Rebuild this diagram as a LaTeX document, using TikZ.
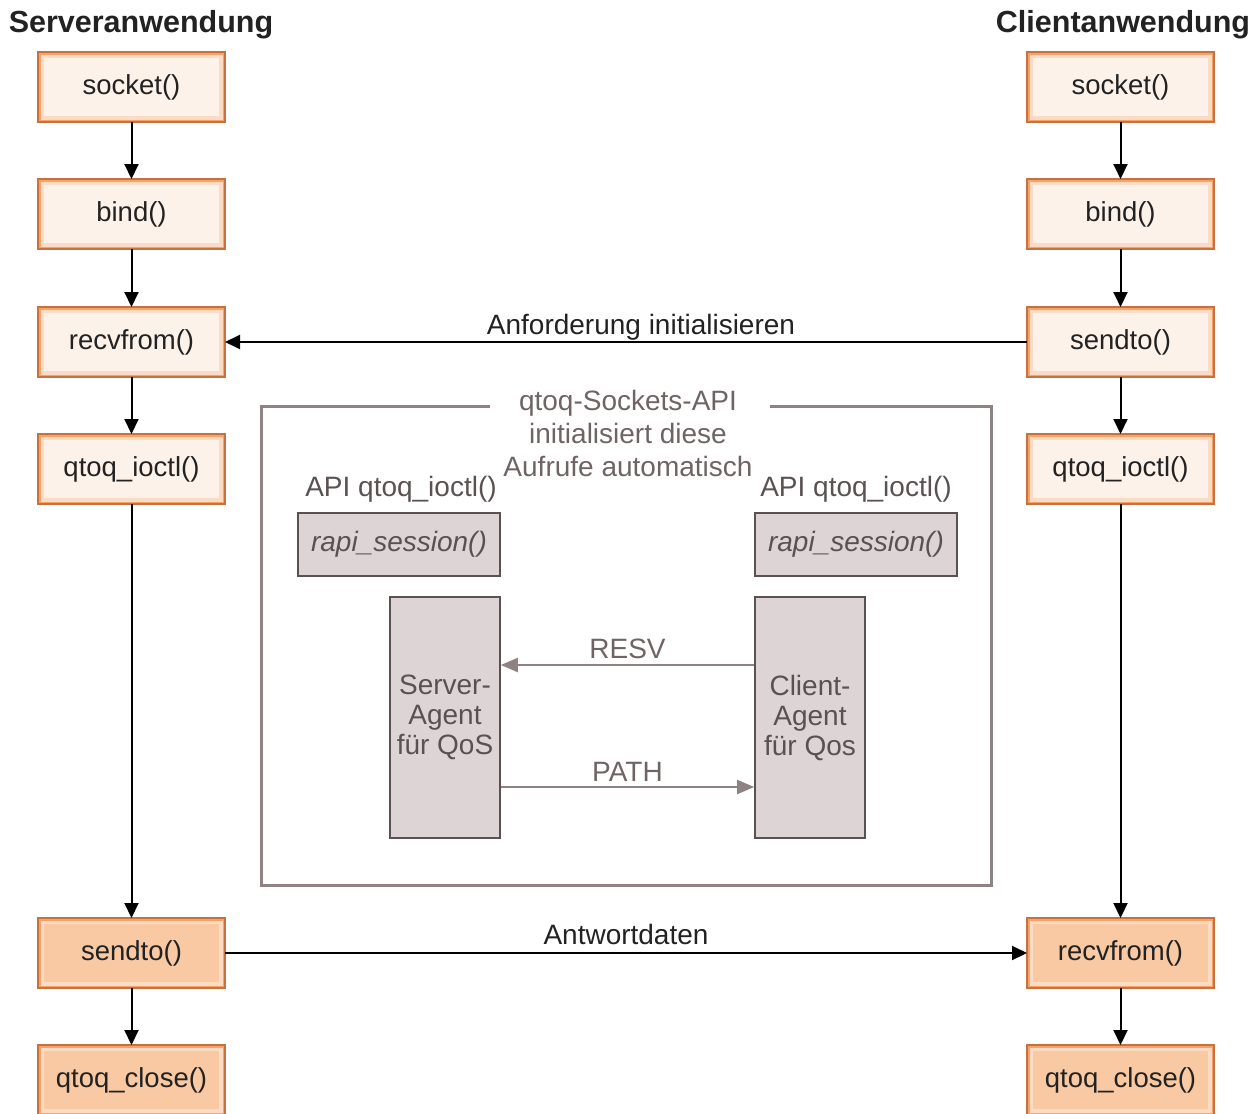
\documentclass[tikz,border=0pt]{standalone}
\usepackage{fontspec}
\setmainfont{Liberation Sans}
\usetikzlibrary{arrows.meta}
\definecolor{boxlight}{HTML}{FCF2EA}
\definecolor{boxdeep}{HTML}{F8C9A2}
\definecolor{boxglow}{HTML}{F4A468}
\definecolor{boxedge}{HTML}{C8713F}
\definecolor{framegray}{HTML}{8E8282}
\definecolor{innerfill}{HTML}{DDD5D5}
\definecolor{innerline}{HTML}{5A5252}
\definecolor{graytext}{HTML}{6E6464}
\definecolor{darktext}{HTML}{222222}
\tikzset{
  fbox/.style={minimum width=187pt, minimum height=70pt, inner sep=0pt, outer sep=0pt,
    draw=boxedge, line width=1.2pt, text=darktext,
    font=\fontsize{27.5}{30}\selectfont,
    path picture={
      \draw[boxglow!40, line width=12pt] (path picture bounding box.south west) rectangle (path picture bounding box.north east);
      \draw[boxglow, line width=5pt] (path picture bounding box.south west) rectangle (path picture bounding box.north east);
    }},
  lightbox/.style={fbox, fill=boxlight},
  deepbox/.style={fbox, fill=boxdeep},
  flow/.style={draw=black, line width=2pt, -{Triangle[width=14pt,length=15pt]}},
  gflow/.style={draw=framegray, line width=2pt, -{Triangle[width=14pt,length=17pt]}},
  title/.style={font=\fontsize{30.5}{33}\selectfont\bfseries, text=darktext, inner sep=0pt},
  lab/.style={font=\fontsize{28}{30}\selectfont, text=darktext, inner sep=0pt},
  glab/.style={font=\fontsize{28}{33}\selectfont, text=graytext, inner sep=0pt, align=center},
  rapi/.style={minimum width=202pt, minimum height=63pt, inner sep=0pt, fill=innerfill, draw=innerline, line width=1.6pt,
    font=\fontsize{28}{30}\selectfont\itshape, text=innerline},
  agent/.style={minimum width=110pt, minimum height=241pt, inner sep=0pt, fill=innerfill, draw=innerline, line width=1.6pt,
    font=\fontsize{28}{30}\selectfont, text=innerline, align=center},
}
\begin{document}
\begin{tikzpicture}[x=1pt,y=-1pt]
\useasboundingbox (0,0) rectangle (1259,1114);
% titles
\node[title] (tl) at (141,25) {Serveranwendung};
\node[title] (tr) at (1123,25) {Clientanwendung};
% left column
\node[lightbox] (ls) at (131.5,87) {socket()};
\node[lightbox] (lb) at (131.5,214) {bind()};
\node[lightbox] (lr) at (131.5,342) {recvfrom()};
\node[lightbox] (li) at (131.5,469) {qtoq\_ioctl()};
\node[deepbox] (lse) at (131.5,953) {sendto()};
\node[deepbox] (lc) at (131.5,1080) {qtoq\_close()};
% right column
\node[lightbox] (rs) at (1120.5,87) {socket()};
\node[lightbox] (rb) at (1120.5,214) {bind()};
\node[lightbox] (rse) at (1120.5,342) {sendto()};
\node[lightbox] (ri) at (1120.5,469) {qtoq\_ioctl()};
\node[deepbox] (rr) at (1120.5,953) {recvfrom()};
\node[deepbox] (rc) at (1120.5,1080) {qtoq\_close()};
% vertical arrows
\draw[flow] (ls) -- (lb);
\draw[flow] (lb) -- (lr);
\draw[flow] (lr) -- (li);
\draw[flow] (li) -- (lse);
\draw[flow] (lse) -- (lc);
\draw[flow] (rs) -- (rb);
\draw[flow] (rb) -- (rse);
\draw[flow] (rse) -- (ri);
\draw[flow] (ri) -- (rr);
\draw[flow] (rr) -- (rc);
% horizontal arrows
\draw[flow] (rse) -- node[lab, above=1pt, xshift=15pt] (la1) {Anforderung initialisieren} (lr);
\draw[flow] (lse) -- node[lab, above=7pt] (la2) {Antwortdaten} (rr);
% gray frame
\coordinate (fa) at (490,406);
\coordinate (fb) at (770,406);
\draw[framegray, line width=3pt] (fa) -- (261,406) -- (261,885) -- (991,885) -- (991,406) -- (fb);
\node[glab] (ft) at (628,433) {qtoq-Sockets-API\\initialisiert diese\\Aufrufe automatisch};
% inner
\node[lab, text=innerline] (apil) at (401,489) {API qtoq\_ioctl()};
\node[lab, text=innerline] (apir) at (856,489) {API qtoq\_ioctl()};
\node[rapi] (rl) at (399,544.5) {rapi\_session()};
\node[rapi] (rrp) at (856,544.5) {rapi\_session()};
\node[agent] (sa) at (445,717.5) {Server-\\Agent\\für QoS};
\node[agent] (ca) at (810,717.5) {Client-\\Agent\\für Qos};
\draw[gflow] ([yshift=52.5pt]ca.west) -- node[glab, above=5pt] (resv) {RESV} ([yshift=52.5pt]sa.east);
\draw[gflow] ([yshift=-69.5pt]sa.east) -- node[glab, above=5pt] (path) {PATH} ([yshift=-69.5pt]ca.west);
\end{tikzpicture}
\end{document}
